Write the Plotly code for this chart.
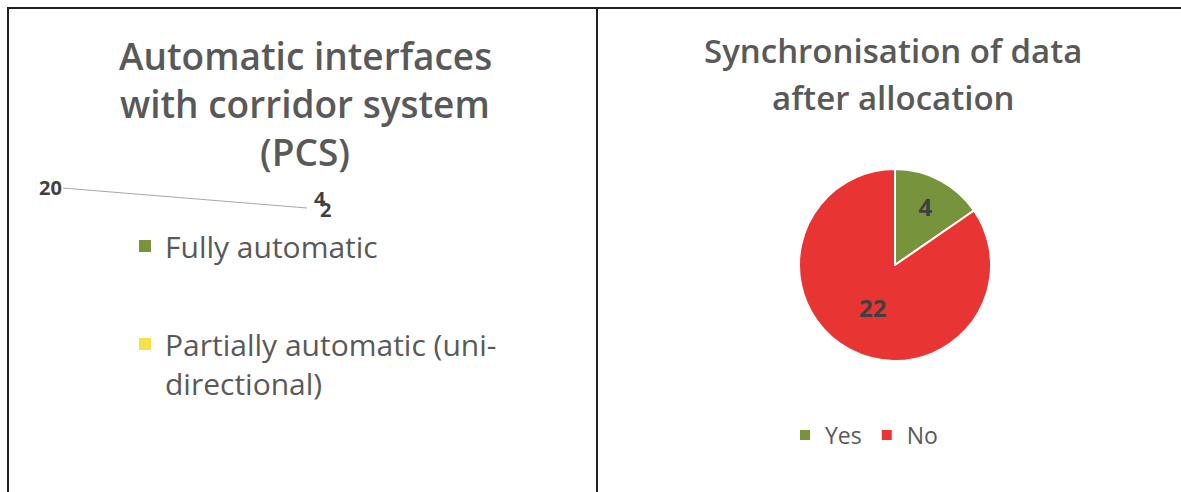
import plotly.graph_objects as go

W, H = 1181, 492

# ---- data ----
left_title_lines = ["Automatic interfaces", "with corridor system", "(PCS)"]
left_legend_names = ["Fully automatic", "Partially automatic (uni-<br>directional)"]
left_legend_colors = ["#77933C", "#F6E04B"]
left_label_values = [20, 4, 2]

right_title_lines = ["Synchronisation of data", "after allocation"]
right_labels = ["Yes", "No"]
right_values = [4, 22]
right_colors = ["#77933C", "#E93434"]

TITLE_COLOR = "#595959"
FONT = "Open Sans"


def px(x):
    return x / W


def py(y):
    return 1 - y / H


fig = go.Figure()

# right pie
fig.add_trace(go.Pie(
    labels=right_labels, values=right_values,
    marker=dict(colors=right_colors, line=dict(color="white", width=2)),
    sort=False, direction="clockwise", rotation=0,
    textinfo="value", textposition="inside",
    insidetextorientation="horizontal",
    textfont=dict(family=FONT, size=24, color="#404040", weight=700),
    domain=dict(x=[px(799), px(991)], y=[py(361), py(169)]),
    legend="legend2", hoverinfo="label+value",
))

# left legend entries (the left pie itself is collapsed / not drawn)
for i, (n, c) in enumerate(zip(left_legend_names, left_legend_colors)):
    fig.add_trace(go.Scatter(
        x=[None], y=[None], mode="markers", name=n,
        marker=dict(symbol="square", size=12, color=c),
        legend="legend", legendgroup=f"g{i}",
    ))

annotations = []
# titles
for i, t in enumerate(left_title_lines):
    annotations.append(dict(x=px(305), y=py(55 + i * 48), xref="paper", yref="paper",
                            text=t, showarrow=False, xanchor="center", yanchor="middle",
                            font=dict(family=FONT, size=37, color=TITLE_COLOR, weight=600)))
for i, t in enumerate(right_title_lines):
    annotations.append(dict(x=px(893), y=py(51 + i * 46), xref="paper", yref="paper",
                            text=t, showarrow=False, xanchor="center", yanchor="middle",
                            font=dict(family=FONT, size=33, color=TITLE_COLOR, weight=600)))

# left data labels of the collapsed pie
lab_font = dict(family=FONT, size=20, color="#404040", weight=700)
annotations.append(dict(x=px(307), y=py(208), xref="paper", yref="paper",
                        text=str(left_label_values[0]), showarrow=True, arrowhead=0,
                        arrowwidth=1, arrowcolor="#A6A6A6", standoff=0,
                        ax=50 - 307, ay=187 - 208,
                        font=lab_font))
annotations.append(dict(x=px(320), y=py(198), xref="paper", yref="paper",
                        xanchor="center", yanchor="middle",
                        text=str(left_label_values[1]), showarrow=False, font=lab_font))
annotations.append(dict(x=px(325), y=py(210), xref="paper", yref="paper",
                        xanchor="center", yanchor="middle",
                        text=str(left_label_values[2]), showarrow=False, font=lab_font))

border = dict(color="#231F20", width=2)
shapes = [
    dict(type="line", xref="paper", yref="paper", x0=px(7), x1=1, y0=py(8), y1=py(8), line=border),
    dict(type="line", xref="paper", yref="paper", x0=px(8), x1=px(8), y0=py(7), y1=0, line=border),
    dict(type="line", xref="paper", yref="paper", x0=px(597), x1=px(597), y0=py(7), y1=0, line=border),
]

fig.update_layout(
    width=W, height=H,
    margin=dict(l=0, r=0, t=0, b=0),
    paper_bgcolor="white", plot_bgcolor="white",
    xaxis=dict(visible=False), yaxis=dict(visible=False),
    showlegend=True,
    legend=dict(x=px(125), y=py(220), xanchor="left", yanchor="top",
                font=dict(family=FONT, size=30, color=TITLE_COLOR),
                traceorder="grouped", tracegroupgap=56, itemwidth=30, valign="top",
                bgcolor="rgba(0,0,0,0)"),
    legend2=dict(orientation="h", x=px(864), y=py(435), xanchor="center", yanchor="middle",
                 font=dict(family=FONT, size=23, color=TITLE_COLOR),
                 itemwidth=30, bgcolor="rgba(0,0,0,0)"),
    annotations=annotations,
    shapes=shapes,
)

fig.write_html("out.html", config={"displayModeBar": False},
               post_script="document.body.style.margin='0px';")
